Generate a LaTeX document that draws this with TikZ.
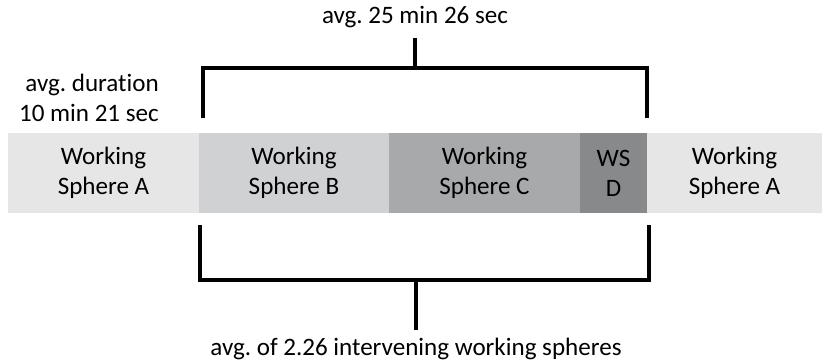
\documentclass[tikz,border=0pt]{standalone}
\usepackage{fontspec}
\setmainfont{Carlito}[Ligatures=NoCommon]
\usetikzlibrary{positioning}
\frenchspacing

\definecolor{wsA}{HTML}{E6E6E6}
\definecolor{wsB}{HTML}{D0D1D3}
\definecolor{wsC}{HTML}{A8A9AB}
\definecolor{wsD}{HTML}{88898B}

\begin{document}
\begin{tikzpicture}[
    x=0.75pt, y=-0.75pt,
    seg/.style={minimum height=60pt, inner sep=0pt, outer sep=0pt,
                align=center, font=\fontsize{18.8}{22.5}\selectfont},
    lbl/.style={inner sep=0pt, align=center,
                font=\fontsize{18.8}{22.5}\selectfont},
    bracket/.style={line width=2.4pt, line join=miter}
  ]
  \useasboundingbox (0,0) rectangle (823,362);

  % the bar of working spheres
  \node[seg, fill=wsA, minimum width=143.25pt, anchor=north west] (sphA) at (8,133) {Working\\Sphere A};
  \node[seg, fill=wsB, minimum width=142.5pt, right=0pt of sphA] (sphB) {Working\\Sphere B};
  \node[seg, fill=wsC, minimum width=143.25pt, right=0pt of sphB] (sphC) {Working\\Sphere C};
  \node[seg, fill=wsD, minimum width=50.25pt, right=0pt of sphC] (sphD) {WS\\D};
  \node[seg, fill=wsA, minimum width=131.25pt, right=0pt of sphD] (sphA2) {Working\\Sphere A};

  % labels
  \node[lbl, anchor=east, align=right] (durA) at (159,98) {avg. duration\\10 min 21 sec};
  \node[lbl] (durTop) at (415,17) {avg. 25 min 26 sec};
  \node[lbl] (countBot) at (416,349) {avg. of 2.26 intervening working spheres};

  % top bracket
  \coordinate (topL) at (203,118);
  \coordinate (topR) at (647,118);
  \coordinate (topM) at (415,68);
  \coordinate (topS) at (415,38);
  \draw[bracket] (topL) |- (topM) -| (topR);
  \draw[bracket] (topM) -- (topS);

  % bottom bracket
  \coordinate (botL) at (200,225);
  \coordinate (botR) at (649,225);
  \coordinate (botM) at (416,280);
  \coordinate (botS) at (416,330);
  \draw[bracket] (botL) |- (botM) -| (botR);
  \draw[bracket] (botM) -- (botS);
\end{tikzpicture}
\end{document}
